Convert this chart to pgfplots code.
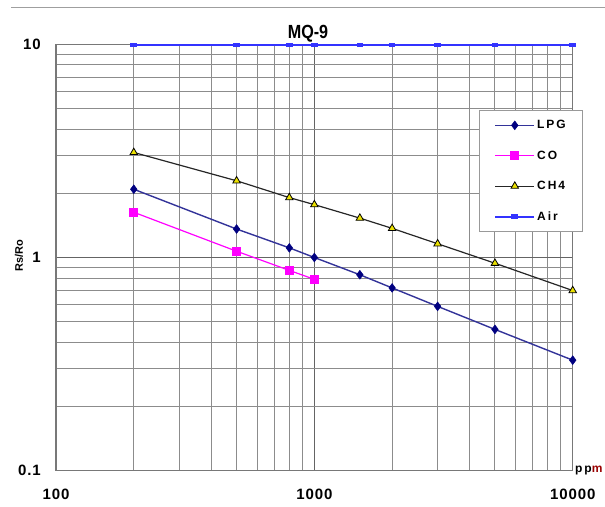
\documentclass[border=0pt]{standalone}
\usepackage{fontspec}
\setmainfont{Liberation Sans}
\newfontfamily\legfont[LetterSpace=16]{Liberation Sans}
\newfontfamily\tickfont[LetterSpace=6]{Liberation Sans}
\usepackage{pgfplots}
\pgfplotsset{compat=1.18}

\definecolor{lpgline}{RGB}{51,51,153}
\definecolor{lpgmark}{RGB}{0,0,128}
\definecolor{coline}{RGB}{255,0,255}
\definecolor{airline}{RGB}{51,51,255}
\definecolor{gridc}{RGB}{140,140,140}
\definecolor{gridd}{RGB}{100,100,100}
\definecolor{axisc}{RGB}{120,120,120}
\definecolor{trifill}{RGB}{235,225,0}

\pgfplotstableread{
x y
200 2.09
500 1.36
800 1.11
1000 1.00
1500 0.83
2000 0.72
3000 0.59
5000 0.46
10000 0.33
}\lpg
\pgfplotstableread{
x y
200 1.63
500 1.07
800 0.87
1000 0.79
}\co
\pgfplotstableread{
x y
200 3.11
500 2.29
800 1.91
1000 1.77
1500 1.53
2000 1.37
3000 1.16
5000 0.94
10000 0.70
}\chf
\pgfplotstableread{
x y
200 9.9
500 9.9
800 9.9
1000 9.9
1500 9.9
2000 9.9
3000 9.9
5000 9.9
10000 9.9
}\air

\begin{document}
\begin{tikzpicture}[x=1pt,y=1pt]
\useasboundingbox (0,0) rectangle (605,506);
\draw[gray!75, line width=1pt] (11,498) -- (605,498);
\begin{axis}[
  at={(56pt,35.3pt)}, anchor=south west,
  scale only axis, width=516.7pt, height=426.4pt,
  xmode=log, ymode=log,
  xmin=100, xmax=10000, ymin=0.1, ymax=10,
  xtick={100,1000,10000}, xticklabels={100,1000,10000},
  ytick={0.1,1,10}, yticklabels={0.1,1,10},
  minor xtick={200,300,400,500,600,700,800,900,2000,3000,4000,5000,6000,7000,8000,9000},
  minor ytick={0.2,0.3,0.4,0.5,0.6,0.7,0.8,0.9,2,3,4,5,6,7,8,9},
  grid=both,
  minor grid style={draw=gridc, line width=1pt},
  major grid style={draw=gridd, line width=1.1pt},
  tick style={draw=none},
  axis line style={draw=axisc, line width=1.3pt},
  tick label style={font=\fontsize{15}{15}\selectfont\bfseries\tickfont, inner sep=0pt},
  xticklabel style={anchor=base, yshift=-28.8pt},
  yticklabel style={anchor=east, xshift=-15pt},
  clip=false,
  legend style={at={(0.8186,0.8459)}, anchor=north west, draw=gray!80, line width=0.8pt,
    fill=white, font=\fontsize{12}{12}\selectfont\bfseries\legfont,
    inner xsep=15pt, inner ysep=8pt, row sep=16.5pt,
    nodes={inner sep=2pt, anchor=west}},
  legend cell align=left,
  legend image code/.code={\draw[mark repeat=2,mark phase=2,#1] plot coordinates {(0pt,0pt)(19.5pt,0pt)(39pt,0pt)};},
]
\addplot[lpgline, line width=1.4pt, mark=diamond*, mark size=4.4pt,
  mark options={fill=lpgmark, draw=lpgmark, line width=0.5pt}] table {\lpg};
\addlegendentry{LPG}
\addplot[coline, line width=1.2pt, mark=square*, mark size=3.8pt,
  mark options={fill=coline, draw=coline}] table {\co};
\addlegendentry{CO}
\addplot[black!85, line width=1.2pt, mark=triangle*, mark size=4.3pt,
  mark options={fill=trifill, draw=black, line width=0.8pt}] table {\chf};
\addlegendentry{CH4}
\addplot[airline, line width=1.8pt, mark=square*, mark size=1.6pt,
  mark options={fill=airline, draw=airline, xscale=1.5, yscale=0.8}] table {\air};
\addlegendentry{Air\hspace{6pt}}
\end{axis}
\node[font=\fontsize{19}{19}\selectfont\bfseries, inner sep=0pt] at (308,472.5) {\scalebox{0.85}[1]{MQ-9}};
\node[font=\fontsize{11}{11}\selectfont\bfseries, rotate=90, inner sep=0pt] at (19,250) {Rs/Ro};
\node[font=\fontsize{12}{12}\selectfont\bfseries\legfont, anchor=base west, inner sep=0pt] at (575,33.5) {pp\textcolor{red!60!black}{m}};
\end{tikzpicture}
\end{document}
